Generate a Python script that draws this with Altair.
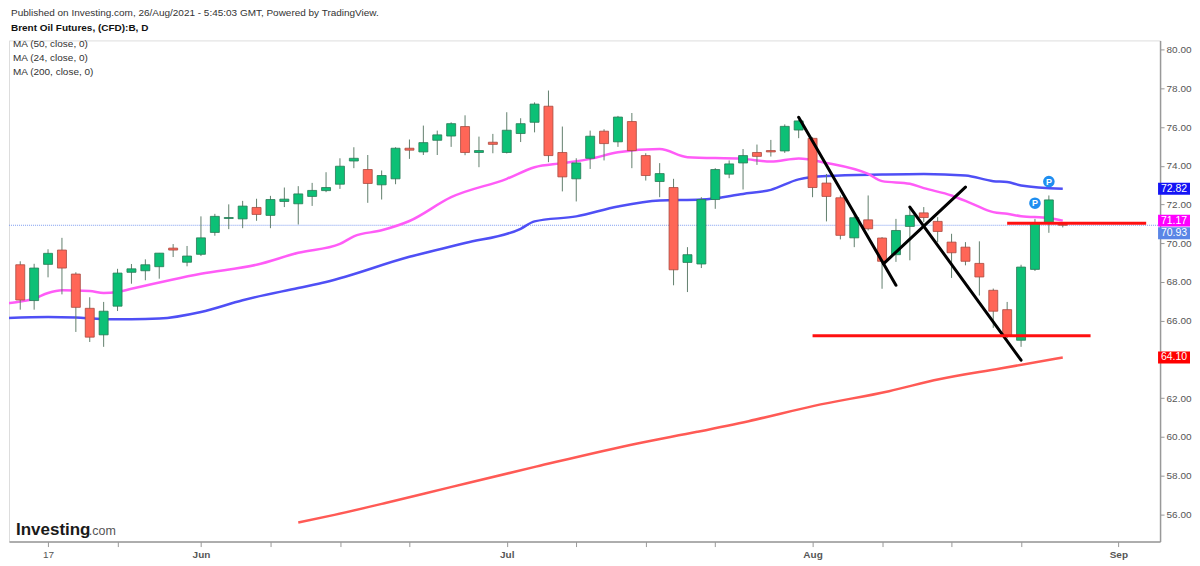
import altair as alt
import pandas as pd

# ---------------- data ----------------
bars = list(range(76))  # 0 = 13 May 2021 ... 75 = 26 Aug 2021 (trading days)
opens = [68.89, 67.04, 68.91, 69.65, 68.41, 66.64, 65.27, 66.75, 68.50, 68.58,
         68.79, 69.75, 69.02, 69.43, 70.56, 71.28, 71.26, 71.85, 71.44, 72.16,
         72.04, 72.42, 72.72, 73.05, 74.25, 73.81, 73.02, 73.33, 74.91, 74.72,
         75.32, 75.54, 76.03, 74.69, 75.22, 74.69, 75.67, 76.25, 77.08, 74.69,
         73.33, 74.39, 75.79, 75.24, 76.29, 74.53, 73.19, 72.88, 69.01, 68.93,
         72.26, 73.57, 74.15, 74.69, 74.79, 74.77, 75.85, 75.42, 73.11, 72.35,
         70.28, 71.21, 70.27, 69.41, 70.87, 71.57, 71.13, 70.06, 69.80, 68.96,
         67.57, 66.57, 64.99, 68.65, 71.04, 70.98]
highs = [69.07, 68.94, 69.69, 70.28, 68.50, 67.21, 66.97, 68.68, 68.93, 69.17,
         69.50, 69.96, 69.86, 71.39, 71.52, 72.01, 72.19, 72.30, 72.45, 72.88,
         72.95, 73.12, 73.67, 74.39, 74.96, 74.56, 73.76, 74.96, 75.36, 76.08,
         75.82, 76.25, 76.61, 75.51, 75.65, 76.77, 76.46, 77.28, 77.89, 76.03,
         74.39, 75.82, 75.89, 76.58, 76.73, 74.65, 74.14, 73.33, 69.80, 72.38,
         73.88, 74.28, 74.87, 75.10, 75.34, 76.14, 76.37, 75.48, 73.58, 72.47,
         71.44, 72.47, 70.32, 71.26, 71.87, 71.87, 71.35, 70.49, 70.06, 70.10,
         67.66, 66.97, 68.89, 71.26, 72.47, 71.02]
lows = [66.57, 66.57, 68.24, 67.36, 65.42, 64.90, 64.65, 66.50, 67.91, 68.09,
        68.17, 69.29, 68.81, 69.34, 70.39, 70.73, 70.78, 71.16, 70.78, 71.87,
        70.97, 71.93, 72.64, 72.81, 73.88, 72.09, 72.26, 73.05, 74.36, 74.56,
        74.56, 74.98, 74.55, 73.93, 74.65, 74.64, 75.23, 75.73, 74.19, 72.68,
        72.16, 73.84, 74.28, 74.98, 73.88, 73.24, 72.38, 67.83, 67.48, 68.72,
        71.78, 73.36, 72.78, 74.05, 74.48, 74.67, 75.43, 72.38, 71.13, 70.20,
        69.80, 70.66, 67.65, 69.04, 69.12, 71.09, 70.06, 68.21, 68.86, 67.30,
        65.63, 65.10, 64.65, 68.57, 70.54, 70.82]
closes = [67.07, 68.72, 69.48, 68.72, 66.69, 65.15, 66.49, 68.46, 68.68, 68.89,
          69.49, 69.65, 69.34, 70.28, 71.39, 71.33, 71.92, 71.49, 72.26, 72.28,
          72.55, 72.73, 72.88, 73.98, 74.39, 73.09, 73.50, 74.91, 74.81, 75.20,
          75.60, 76.18, 74.69, 74.79, 75.11, 75.84, 76.18, 77.19, 74.53, 73.43,
          74.15, 75.53, 75.15, 76.52, 74.79, 73.50, 73.60, 68.63, 69.41, 72.26,
          73.81, 74.10, 74.53, 74.49, 74.72, 76.04, 76.32, 72.88, 72.42, 70.41,
          71.32, 70.75, 69.07, 70.66, 71.44, 71.33, 70.61, 69.51, 69.07, 68.26,
          66.49, 65.21, 68.77, 71.06, 72.24, 70.93]

# moving averages (bar position, value)
ma50_i = [-1, 2, 4, 6, 8, 10, 13, 16, 20, 22, 28, 32, 36, 37, 40, 43, 46, 49, 52,
          54, 56, 58, 62, 65, 68, 70, 71, 72, 75]
ma50_v = [66.14, 66.19, 66.16, 66.08, 66.08, 66.11, 66.45, 67.06, 67.69, 68.00,
          69.30, 70.01, 70.75, 71.13, 71.39, 71.90, 72.21, 72.26, 72.55, 72.76,
          73.30, 73.47, 73.55, 73.58, 73.50, 73.21, 73.16, 72.99, 72.82]
ma24_i = [-1, 1, 2, 3, 5, 6, 7, 8, 13, 17, 20, 23, 24, 26, 28, 31, 35, 37, 39, 41,
          43, 46, 48, 52, 54, 56, 58, 61, 62, 64, 65, 67, 68.5, 70, 71, 72, 74, 75]
ma24_v = [66.90, 67.14, 67.43, 67.57, 67.53, 67.43, 67.48, 67.65, 68.43, 68.89,
          69.51, 69.97, 70.36, 70.67, 71.15, 72.38, 73.33, 73.93, 74.14, 74.36,
          74.70, 74.87, 74.45, 74.36, 74.22, 74.38, 74.15, 73.58, 73.21, 73.07,
          72.85, 72.47, 72.04, 71.61, 71.52, 71.40, 71.30, 71.17]
ma200_i = [20, 22.6, 26.2, 30.9, 37.1, 44.4, 48.7, 52.4, 57.1, 62.5, 66.1, 70.5, 75]
ma200_v = [55.57, 55.97, 56.57, 57.39, 58.46, 59.66, 60.26, 60.81, 61.60, 62.36,
           62.98, 63.53, 64.10]

# drawn trend lines (start bar, start price, end bar, end price)
trend_i1 = [56.0, 62.1, 64.0]
trend_p1 = [76.51, 68.94, 71.87]
trend_i2 = [63.0, 68.0, 72.0]
trend_p2 = [67.83, 72.90, 63.96]
# horizontal red levels
level_i1 = [71.0, 57.0]
level_i2 = [81.0, 77.0]
level_p = [71.04, 65.22]

# "P" markers
pmark_i = [73, 74]
pmark_p = [72.07, 73.19]

# right-hand price tags
tag_values = [72.82, 71.17, 70.93, 64.10]
tag_colors = ["#1414f5", "#ff00ff", "#5a86e6", "#ff0000"]
tag_offsets = [0, 0, 8, 0]

# x axis ticks / labels
tick_idx = [2, 7, 13, 18, 23, 28, 35, 40, 45, 50, 57, 62, 67, 72, 79]
tick_lbl = ["17", "", "Jun", "", "", "", "Jul", "", "", "", "Aug", "", "", "", "Sep"]
y_ticks = [56, 58, 60, 62, 66, 68, 70, 72, 74, 76, 78, 80]  # 64 hidden under its tag

header = "Published on Investing.com, 26/Aug/2021 - 5:45:03 GMT, Powered by TradingView."
instrument = "Brent Oil Futures, (CFD):B, D"
ma_legend = ["MA (50, close, 0)", "MA (24, close, 0)", "MA (200, close, 0)"]

# ---------------- chart ----------------
W, H = 1153, 502
FONT = "Liberation Sans"
xs = alt.Scale(domain=[-0.45, 81.64], nice=False, zero=False)
ys = alt.Scale(domain=[54.59, 80.48], nice=False, zero=False)

label_expr = " : ".join(
    f"datum.value == {i} ? '{l}'" for i, l in zip(tick_idx, tick_lbl) if l
) + " : ''"

x_axis = alt.Axis(values=tick_idx, labelExpr=label_expr, title=None, grid=False,
                  tickSize=5, labelPadding=3, labelFontSize=10, labelColor="#555",
                  labelFont=FONT, domainColor="#999", domainWidth=1.5,
                  tickColor="#999", labelOverlap=False, labelFlush=False,
                  labelFontWeight={"condition": {"test": "datum.value == 2", "value": "normal"},
                                   "value": "bold"})
y_axis = alt.Axis(orient="right", values=y_ticks, format=".2f", title=None, grid=False,
                  tickSize=4, labelPadding=2, labelFontSize=10, labelColor="#555",
                  labelFont=FONT, domainColor="#999", domainWidth=1.5,
                  tickColor="#999")


def X(field):
    return alt.X(field, scale=xs, axis=x_axis, title=None)


def Y(field):
    return alt.Y(field, scale=ys, axis=y_axis, title=None)


cdf = pd.DataFrame({"i": bars, "open": opens, "high": highs, "low": lows, "close": closes})

last_df = pd.DataFrame({"v": [closes[-1]]})
last_line = alt.Chart(last_df).mark_rule(color="#7d9df0", strokeDash=[1, 1], strokeWidth=1).encode(
    y=Y("v:Q"))

layers = [last_line]
for mi, mv, col in [(ma50_i, ma50_v, "#4f4ff5"), (ma24_i, ma24_v, "#ff5cf7"),
                    (ma200_i, ma200_v, "#ff5a55")]:
    layers.append(alt.Chart(pd.DataFrame({"i": mi, "v": mv})).mark_line(
        strokeWidth=2.5, clip=True, interpolate="monotone", color=col).encode(
        x=X("i:Q"), y=Y("v:Q")))

up = "datum.close >= datum.open"
wicks = alt.Chart(cdf).mark_rule(color="#62806d", strokeWidth=1).encode(
    x=X("i:Q"), y=Y("low:Q"), y2="high:Q")
bodies = alt.Chart(cdf).mark_bar(size=9, strokeWidth=0.8).encode(
    x=X("i:Q"), y=Y("open:Q"), y2="close:Q",
    color=alt.condition(up, alt.value("#0cc076"), alt.value("#ff6657")),
    stroke=alt.condition(up, alt.value("#287a55"), alt.value("#a84a40")))

trend_df = pd.DataFrame({"i": trend_i1, "p": trend_p1, "i2": trend_i2, "p2": trend_p2})
trends = alt.Chart(trend_df).mark_rule(color="black", strokeWidth=3, strokeCap="round").encode(
    x=X("i:Q"), y=Y("p:Q"), x2="i2:Q", y2="p2:Q")

level_df = pd.DataFrame({"i": level_i1, "i2": level_i2, "p": level_p})
levels = alt.Chart(level_df).mark_rule(color="#ff1010", strokeWidth=3).encode(
    x=X("i:Q"), x2="i2:Q", y=Y("p:Q"))

pm_df = pd.DataFrame({"i": pmark_i, "p": pmark_p, "t": ["P", "P"]})
pm_circ = alt.Chart(pm_df).mark_circle(size=135, color="#1f8ef0", opacity=1).encode(
    x=X("i:Q"), y=Y("p:Q"))
pm_text = alt.Chart(pm_df).mark_text(color="white", fontSize=9, fontWeight="bold",
                                     font=FONT).encode(x=X("i:Q"), y=Y("p:Q"), text="t:N")

layers += [wicks, bodies, trends, levels, pm_circ, pm_text]

box_shape = "M-1,-0.375L1,-0.375L1,0.375L-1,0.375Z"
for v, c, off in zip(tag_values, tag_colors, tag_offsets):
    tdf = pd.DataFrame({"v": [v], "t": [f"{v:.2f}"]})
    layers.append(alt.Chart(tdf).mark_point(shape=box_shape, size=1024, filled=True,
                                            opacity=1, color=c, yOffset=off).encode(
        x=alt.value(W + 14), y=Y("v:Q")))
    layers.append(alt.Chart(tdf).mark_text(color="white", fontSize=10.5, font=FONT,
                                           yOffset=off).encode(
        x=alt.value(W + 14), y=Y("v:Q"), text="t:N"))

for k, t in enumerate(ma_legend):
    layers.append(alt.Chart(pd.DataFrame({"t": [t]})).mark_text(
        align="left", baseline="middle", fontSize=10, font=FONT, color="#333").encode(
        x=alt.value(4), y=alt.value(4 + 14 * k), text="t:N"))

layers.append(alt.Chart(pd.DataFrame({"t": ["Investing"]})).mark_text(
    align="left", baseline="alphabetic", fontSize=17, fontWeight="bold", font=FONT,
    color="#1a1a1a").encode(x=alt.value(7), y=alt.value(495), text="t:N"))
layers.append(alt.Chart(pd.DataFrame({"t": [".com"]})).mark_text(
    align="left", baseline="alphabetic", fontSize=12.5, font=FONT,
    color="#555").encode(x=alt.value(80), y=alt.value(495), text="t:N"))

PAD = {"left": 0, "top": 0, "right": 0, "bottom": 0}
chart = alt.layer(*layers).properties(
    width=W, height=H,
    padding=PAD,
    title=alt.TitleParams(text=header, subtitle=instrument, anchor="start", frame="group",
                          fontSize=10, fontWeight="normal", color="#333", font=FONT,
                          subtitleFont=FONT, subtitleFontSize=10, subtitleFontWeight="bold",
                          subtitleColor="#111", subtitlePadding=5, offset=6, dx=2),
).configure_view(stroke=None).configure(background="white", padding=PAD)

chart.save("out.html", embed_options={"renderer": "svg", "actions": False})
